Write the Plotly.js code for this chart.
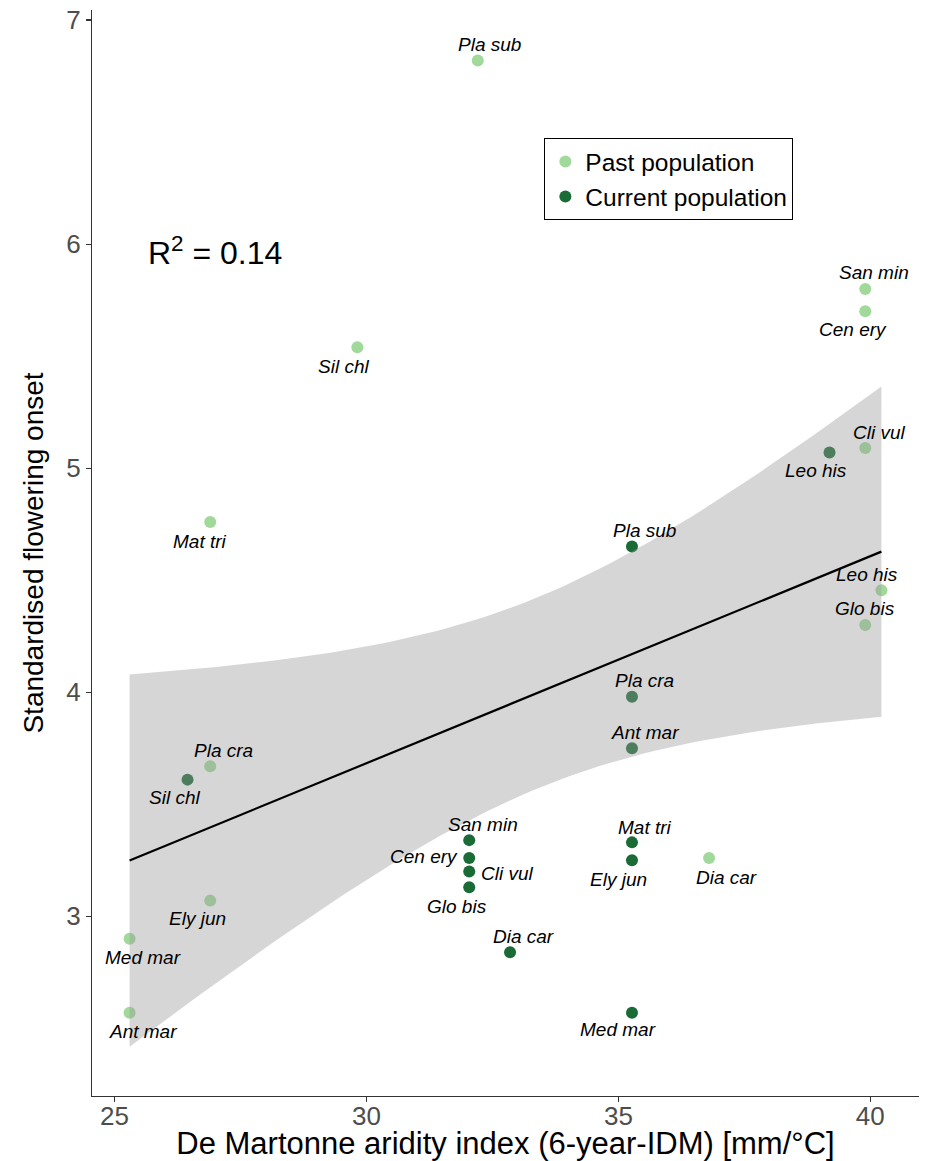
<!DOCTYPE html>
<html>
<head>
<meta charset="utf-8">
<script src="https://cdn.plot.ly/plotly-3.0.1.min.js"></script>
<style>html,body{margin:0;padding:0;background:#fff}#chart{width:925px;height:1161px}</style>
</head>
<body>
<div id="chart"></div>
<script>
// ---- data ----
const pastNames = ["Pla sub","San min","Cen ery","Sil chl","Cli vul","Mat tri","Leo his","Glo bis","Pla cra","Ely jun","Dia car","Med mar","Ant mar"];
const pastX = [32.21, 39.90, 39.90, 29.82, 39.90, 26.90, 40.22, 39.90, 26.90, 26.90, 36.80, 25.30, 25.30];
const pastY = [6.82, 5.80, 5.70, 5.54, 5.09, 4.76, 4.455, 4.30, 3.67, 3.07, 3.26, 2.90, 2.57];

const currentNames = ["Pla sub","Pla cra","Ant mar","San min","Cen ery","Cli vul","Glo bis","Dia car","Mat tri","Ely jun","Med mar","Leo his","Sil chl"];
const currentX = [35.27, 35.27, 35.27, 32.04, 32.04, 32.04, 32.04, 32.85, 35.27, 35.27, 35.27, 39.19, 26.45];
const currentY = [4.65, 3.98, 3.75, 3.34, 3.26, 3.20, 3.13, 2.84, 3.33, 3.25, 2.57, 5.07, 3.61];

const xTicks = [25, 30, 35, 40];
const yTicks = [3, 4, 5, 6, 7];
const r2Text = "R<sup>2</sup> = 0.14";

// ---- label placement (pixel offsets: dx right, dy down) ----
const pastLabelPos = [[12,-16],[9,-16],[-12,18],[-14,19],[14,-16],[-10,20],[-14,-16],[0,-17],[13,-16],[-13,18],[17,19],[13,19],[13,19]];
const currentLabelPos = [[13,-16],[13,-16],[13,-16],[14,-16],[-9,-2,'right'],[10,2,'left'],[-12,19],[13,-16],[13,-15],[-13,19],[-14,17],[-14,18],[-13,18]];

// ---- linear fit with 95% confidence band (as geom_smooth(method="lm")) ----
const allX = pastX.concat(currentX);
const allY = pastY.concat(currentY);
const n = allX.length;
const mx = allX.reduce((a,b)=>a+b,0)/n;
const my = allY.reduce((a,b)=>a+b,0)/n;
let sxx=0, sxy=0;
for (let i=0;i<n;i++){ sxx += (allX[i]-mx)**2; sxy += (allX[i]-mx)*(allY[i]-my); }
const slope = sxy/sxx, intercept = my - slope*mx;
let sse=0;
for (let i=0;i<n;i++){ sse += (allY[i]-(intercept+slope*allX[i]))**2; }
const s = Math.sqrt(sse/(n-2));
const tq = 2.0639; // t(0.975, df = 24)
const xmin = Math.min(...allX), xmax = Math.max(...allX);
const gx=[], gy=[], lo=[], hi=[];
const N=80;
for (let k=0;k<=N;k++){
  const x = xmin + (xmax-xmin)*k/N;
  const yh = intercept + slope*x;
  const se = s*Math.sqrt(1/n + (x-mx)**2/sxx);
  gx.push(x); gy.push(yh); lo.push(yh - tq*se); hi.push(yh + tq*se);
}
const bandX = gx.concat(gx.slice().reverse());
const bandY = hi.concat(lo.slice().reverse());

const pastColor = '#a1d99b';
const currentColor = '#1b6b36';
const FONT = 'Liberation Sans, Arial, sans-serif';

const traces = [
  {x: pastX, y: pastY, type:'scatter', mode:'markers', name:'Past population',
   marker:{color: pastColor, size:12}, hoverinfo:'skip'},
  {x: currentX, y: currentY, type:'scatter', mode:'markers', name:'Current population',
   marker:{color: currentColor, size:12}, hoverinfo:'skip'},
  {x: bandX, y: bandY, type:'scatter', mode:'lines', fill:'toself',
   fillcolor:'rgba(153,153,153,0.4)', line:{width:0, color:'rgba(0,0,0,0)'},
   showlegend:false, hoverinfo:'skip'},
  {x: gx, y: gy, type:'scatter', mode:'lines', line:{color:'#000', width:2.2},
   showlegend:false, hoverinfo:'skip'}
];

const annotations = [];
function addLabels(names, xs, ys, pos){
  names.forEach((nm,i)=>{
    const p = pos[i];
    annotations.push({x: xs[i], y: ys[i], xref:'x', yref:'y', text: nm, showarrow:false,
      xanchor: p[2] || 'center', yanchor:'middle', xshift: p[0], yshift: -p[1],
      font:{family: FONT, size:19, color:'#000', style:'italic'}});
  });
}
addLabels(pastNames, pastX, pastY, pastLabelPos);
addLabels(currentNames, currentX, currentY, currentLabelPos);
annotations.push({x: 25.63, y: 5.97, xref:'x', yref:'y', text: r2Text, showarrow:false,
  xanchor:'left', yanchor:'middle', font:{family: FONT, size:32, color:'#000'}});

const layout = {
  width: 925, height: 1161,
  margin: {l: 92, r: 6, t: 10, b: 65},
  paper_bgcolor:'#fff', plot_bgcolor:'#fff',
  font: {family: FONT, color:'#000'},
  showlegend: true,
  legend: {x: 0.547, y: 0.882, xanchor:'left', yanchor:'top', bgcolor:'#fff',
    bordercolor:'#000', borderwidth:1, font:{family: FONT, size:24.5, color:'#000'},
    itemsizing:'constant'},
  xaxis: {range:[24.554, 40.966], tickvals: xTicks, ticktext: xTicks.map(String),
    showgrid:false, zeroline:false, showline:true, linecolor:'#333', linewidth:1.2,
    ticks:'outside', ticklen:5, tickcolor:'#333', tickwidth:1.2, ticklabelstandoff:-8,
    tickfont:{family: FONT, size:26, color:'#4d4d4d'},
    title:{text:'De Martonne aridity index (6-year-IDM) [mm/°C]', font:{family: FONT, size:31, color:'#000'}, standoff:0}},
  yaxis: {range:[2.198, 7.045], tickvals: yTicks, ticktext: yTicks.map(String),
    showgrid:false, zeroline:false, showline:true, linecolor:'#333', linewidth:1.2,
    ticks:'outside', ticklen:5, tickcolor:'#333', tickwidth:1.2,
    tickfont:{family: FONT, size:26, color:'#4d4d4d'},
    title:{text:'Standardised flowering onset', font:{family: FONT, size:28, color:'#000'}, standoff:14}},
  annotations: annotations
};

Plotly.newPlot('chart', traces, layout, {displayModeBar:false, staticPlot:true});
</script>
</body>
</html>
